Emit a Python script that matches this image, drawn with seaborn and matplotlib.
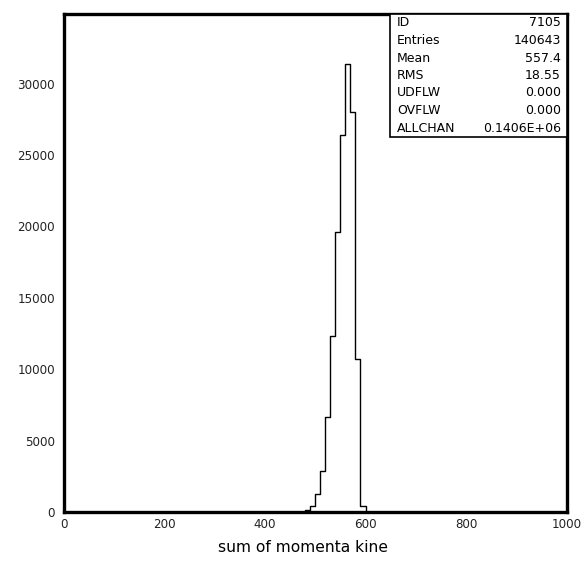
import numpy as np
import pandas as pd
import matplotlib
matplotlib.use("Agg")
import matplotlib.pyplot as plt
import seaborn as sns
from matplotlib.patches import Rectangle
from matplotlib.ticker import MultipleLocator, FixedLocator

# --- data (bins of width 10) ---
bin_centers = [485, 495, 505, 515, 525, 535, 545, 555, 565, 575, 585, 595]
bin_counts = [140, 420, 1260, 2890, 6620, 12300, 19590, 26415, 31400, 28020, 10740, 420]

stat_names = ["ID", "Entries", "Mean", "RMS", "UDFLW", "OVFLW", "ALLCHAN"]
stat_values = ["7105", "140643", "557.4", "18.55", "0.000", "0.000", "0.1406E+06"]

x_label = "sum of momenta kine"
x_major = [0, 200, 400, 600, 800, 1000]
y_major = [0, 5000, 10000, 15000, 20000, 25000, 30000]

df = pd.DataFrame({"x": bin_centers, "w": bin_counts})

sns.set_style("white")
plt.rcParams["font.family"] = ["DejaVu Sans"]

W, H = 583, 569
fig = plt.figure(figsize=(W / 100, H / 100), dpi=100)
left, right, top, bottom = 64, 566.5, 14, 512
ax = fig.add_axes([left / W, 1 - bottom / H, (right - left) / W, (bottom - top) / H])

sns.histplot(data=df, x="x", weights="w", binwidth=10, binrange=(0, 1000),
             element="step", fill=False, color="black", linewidth=1.0, ax=ax)

ax.set_xlim(0, 1000)
ax.set_ylim(0, 34870)

for s in ax.spines.values():
    s.set_linewidth(2.4)
    s.set_color("black")

ax.xaxis.set_major_locator(FixedLocator(x_major))
ax.xaxis.set_minor_locator(MultipleLocator(50))
ax.yaxis.set_major_locator(FixedLocator(y_major))
ax.yaxis.set_minor_locator(MultipleLocator(2500))
ax.tick_params(axis="both", which="both", direction="in", color="black", width=1.0)
ax.tick_params(axis="x", which="major", length=6.5, pad=4, labelsize=8.6, labelcolor="#222222")
ax.tick_params(axis="x", which="minor", length=3.5)
ax.tick_params(axis="y", which="major", length=6, pad=6.5, labelsize=8.6, labelcolor="#222222")
ax.tick_params(axis="y", which="minor", length=4)
ax.set_xticklabels([str(v) for v in x_major])
ax.set_yticklabels([str(v) for v in y_major])

ax.set_xlabel(x_label, fontsize=11.2, color="black")
ax.xaxis.label.set_va("center")
ax.xaxis.set_label_coords((303 - left) / (right - left), (bottom - 548) / (bottom - top))
ax.set_ylabel("")

# statistics box
bx0 = (390 - left) / (right - left)
by0 = (bottom - 137) / (bottom - top)
ax.add_patch(Rectangle((bx0, by0), 1 - bx0, 1 - by0, transform=ax.transAxes,
                       fill=True, facecolor="white", edgecolor="black",
                       linewidth=1.2, zorder=5, clip_on=False))
row_y = [23, 40.5, 58, 75.5, 93, 110.5, 128]
tx_l = (397 - left) / (right - left)
tx_r = (561 - left) / (right - left)
for name, val, yy in zip(stat_names, stat_values, row_y):
    yf = (bottom - yy) / (bottom - top)
    ax.text(tx_l, yf, name, transform=ax.transAxes, ha="left", va="center",
            fontsize=9, color="black", zorder=6)
    ax.text(tx_r, yf, val, transform=ax.transAxes, ha="right", va="center",
            fontsize=9, color="black", zorder=6)

fig.savefig("out.png", dpi=100)
